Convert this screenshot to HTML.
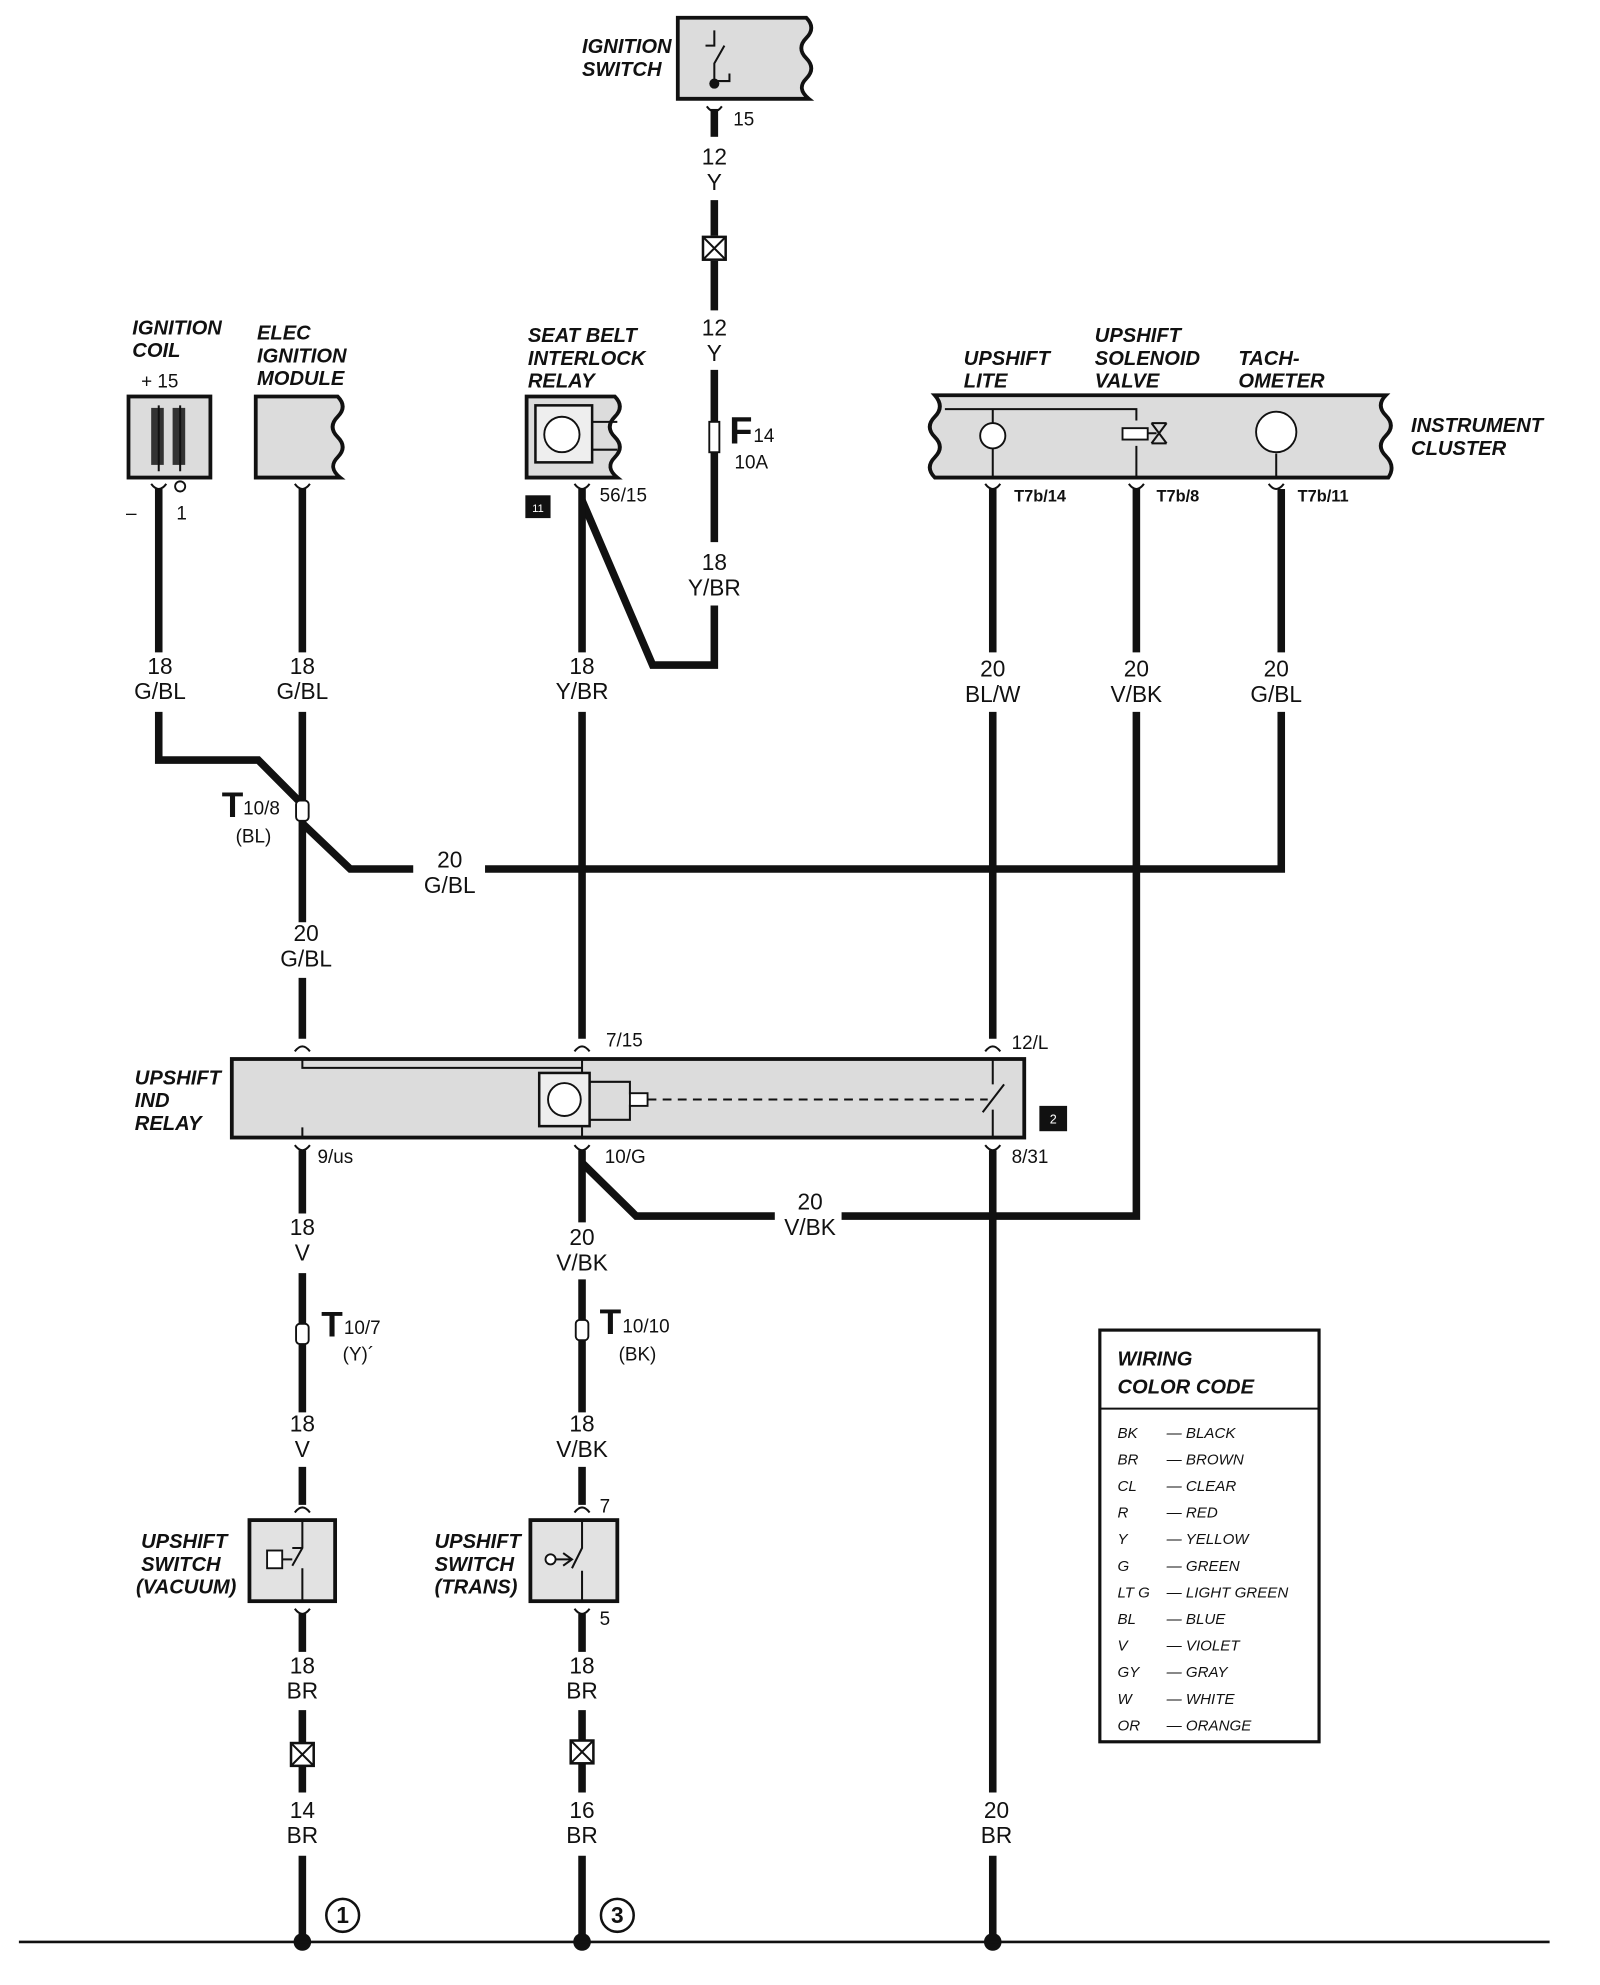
<!DOCTYPE html>
<html><head><meta charset="utf-8"><style>
html,body{margin:0;padding:0;background:#fff}
svg{display:block}
text{font-family:"Liberation Sans",sans-serif;fill:#111}
.l{font-size:18px;text-anchor:middle}
.h{font-size:16px;font-style:italic;font-weight:bold}
.s{font-size:15px}
.c{font-size:12px;font-style:italic}
.w{stroke:#111;stroke-width:6;fill:none}
.g{fill:#dcdcdc;stroke:#111;stroke-width:3}
.t{stroke:#111;stroke-width:1.6;fill:none}
</style></head><body>
<svg width="1600" height="1985" viewBox="0 0 1270 1567" preserveAspectRatio="none" xmlns="http://www.w3.org/2000/svg">
<!-- ignition switch -->
<path class="g" d="M538 14 H640 q8 8 0 16 q-8 8 0 16 q8 8 0 16 q-8 8 2 16 H538 Z"/>
<path class="t" d="M567 64 V50 l8-14 M560 36 H567 V24 M567 64 h12 v-6"/>
<circle cx="567" cy="66" r="4" fill="#111"/>
<text class="h" x="462" y="42">IGNITION</text><text class="h" x="462" y="60">SWITCH</text>
<path class="t" d="M561 84 q6 8 12 0"/>
<path class="w" d="M567 86 V108"/>
<text class="s" x="582" y="99">15</text>
<text class="l" x="567" y="130">12</text><text class="l" x="567" y="150">Y</text>
<path class="w" d="M567 158 V186 M567 206 V245"/>
<rect x="558" y="187" width="18" height="18" fill="#fff" stroke="#111" stroke-width="2"/>
<path class="t" d="M558 187 L576 205 M576 187 L558 205"/>
<text class="l" x="567" y="265">12</text><text class="l" x="567" y="285">Y</text>
<path class="w" d="M567 292 V333 M567 357 V428"/>
<rect x="563" y="333" width="8" height="24" fill="#fff" stroke="#111" stroke-width="1.5"/>
<text x="579" y="350" style="font-size:30px;font-weight:bold">F</text><text class="s" x="598" y="349">14</text>
<text class="s" x="583" y="370">10A</text>
<text class="l" x="567" y="450">18</text><text class="l" x="567" y="470">Y/BR</text>
<path class="w" d="M567 478 V525 H518 L462 395"/>
<!-- ignition coil -->
<rect class="g" x="102" y="313" width="65" height="64"/>
<rect x="120" y="322" width="10" height="45" fill="#333"/><rect x="137" y="322" width="10" height="45" fill="#333"/>
<path class="t" d="M126 320 V372 M143 320 V372"/>
<text class="h" x="105" y="264">IGNITION</text><text class="h" x="105" y="282">COIL</text>
<text class="s" x="112" y="306">+ 15</text>
<text class="s" x="100" y="410">–</text><text class="s" x="140" y="410">1</text>
<circle cx="143" cy="384" r="4" fill="#fff" stroke="#111" stroke-width="1.5"/>
<path class="t" d="M120 382 q6 8 12 0"/>
<path class="w" d="M126 386 V515"/>
<text class="l" x="127" y="532">18</text><text class="l" x="127" y="552">G/BL</text>
<path class="w" d="M126 562 V600 H205 L240 635"/>
<!-- elec ignition module -->
<path class="g" d="M203 313 H268 q8 8 0 16 q-8 8 0 16 q8 8 0 16 q-8 8 2 16 H203 Z"/>
<text class="h" x="204" y="268">ELEC</text><text class="h" x="204" y="286">IGNITION</text><text class="h" x="204" y="304">MODULE</text>
<path class="t" d="M234 382 q6 8 12 0"/>
<path class="w" d="M240 386 V515"/>
<text class="l" x="240" y="532">18</text><text class="l" x="240" y="552">G/BL</text>
<path class="w" d="M240 562 V728 M240 650 L278 686 H328 M385 686 H1017 V562 M1017 386 V515"/>
<rect x="235" y="632" width="10" height="16" rx="3" fill="#fff" stroke="#111" stroke-width="1.5"/>
<text x="176" y="645" style="font-size:28px;font-weight:bold">T</text><text class="s" x="193" y="643">10/8</text>
<text class="s" x="187" y="665">(BL)</text>
<text class="l" x="357" y="685">20</text><text class="l" x="357" y="705">G/BL</text>
<text class="l" x="243" y="743">20</text><text class="l" x="243" y="763">G/BL</text>
<path class="w" d="M240 772 V820"/>
<!-- seat belt relay -->
<path class="g" d="M418 313 H488 q8 8 0 16 q-8 8 0 16 q8 8 0 16 q-8 8 2 16 H418 Z"/>
<rect x="425" y="320" width="45" height="45" fill="#eee" stroke="#111" stroke-width="2"/>
<circle cx="446" cy="343" r="14" fill="#fff" stroke="#111" stroke-width="1.5"/>
<path class="t" d="M470 333 H490 M470 355 H490"/>
<text class="h" x="419" y="270">SEAT BELT</text><text class="h" x="419" y="288">INTERLOCK</text><text class="h" x="419" y="306">RELAY</text>
<rect x="417" y="391" width="20" height="18" fill="#111"/><text x="427" y="404" style="font-size:9px;fill:#fff;text-anchor:middle">11</text>
<text class="s" x="476" y="396">56/15</text>
<path class="t" d="M456 382 q6 8 12 0"/>
<path class="w" d="M462 386 V515"/>
<text class="l" x="462" y="532">18</text><text class="l" x="462" y="552">Y/BR</text>
<path class="w" d="M462 562 V820"/>
<!-- instrument cluster -->
<path class="g" d="M742 312 H1100 q-8 8 0 16 q8 8 0 16 q-8 8 0 16 q8 8 2 17 H742 q-8-8 0-16 q8-8 0-16 q-8-8 0-16 q8-8 0-17 Z"/>
<path class="t" d="M750 323 H902 V332 M788 323 V335 M788 352 V377 M902 352 V377 M1013 358 V377"/>
<circle cx="788" cy="344" r="10" fill="#fff" stroke="#111" stroke-width="1.5"/>
<rect x="891" y="338" width="20" height="9" fill="#fff" stroke="#111" stroke-width="1.5"/>
<path class="t" d="M911 342 H918 M914 334 L926 350 M926 334 L914 350 M914 334 H926 M914 350 H926"/>
<circle cx="1013" cy="341" r="16" fill="#fff" stroke="#111" stroke-width="1.5"/>
<text class="h" x="765" y="288">UPSHIFT</text><text class="h" x="765" y="306">LITE</text>
<text class="h" x="869" y="270">UPSHIFT</text><text class="h" x="869" y="288">SOLENOID</text><text class="h" x="869" y="306">VALVE</text>
<text class="h" x="983" y="288">TACH-</text><text class="h" x="983" y="306">OMETER</text>
<text class="h" x="1120" y="341">INSTRUMENT</text><text class="h" x="1120" y="359">CLUSTER</text>
<text x="805" y="396" style="font-size:13px;font-weight:bold">T7b/14</text>
<text x="918" y="396" style="font-size:13px;font-weight:bold">T7b/8</text>
<text x="1030" y="396" style="font-size:13px;font-weight:bold">T7b/11</text>
<path class="t" d="M782 382 q6 8 12 0 M896 382 q6 8 12 0 M1007 382 q6 8 12 0"/>
<path class="w" d="M788 386 V515 M902 386 V515"/>
<text class="l" x="788" y="534">20</text><text class="l" x="788" y="554">BL/W</text>
<text class="l" x="902" y="534">20</text><text class="l" x="902" y="554">V/BK</text>
<text class="l" x="1013" y="534">20</text><text class="l" x="1013" y="554">G/BL</text>
<path class="w" d="M788 562 V820 M902 562 V960 H668 M615 960 H505 L462 918"/>
<text class="l" x="643" y="955">20</text><text class="l" x="643" y="975">V/BK</text>
<!-- upshift ind relay -->
<rect class="g" x="184" y="836" width="629" height="62"/>
<path class="t" d="M240 836 V843 H462 M462 836 V848 M788 836 V856 M788 876 V898 M240 898 V890 M462 890 V898"/>
<rect x="428" y="847" width="40" height="42" fill="#eee" stroke="#111" stroke-width="2"/>
<circle cx="448" cy="868" r="13" fill="#fff" stroke="#111" stroke-width="1.5"/>
<path class="t" d="M468 854 H500 V864 M468 884 H500 V872"/>
<rect x="500" y="863" width="14" height="10" fill="#fff" stroke="#111" stroke-width="1.5"/>
<path d="M514 868 H784" stroke="#111" stroke-width="1.6" stroke-dasharray="7,5"/>
<path class="t" d="M780 878 L797 856"/>
<text class="h" x="107" y="856">UPSHIFT</text><text class="h" x="107" y="874">IND</text><text class="h" x="107" y="892">RELAY</text>
<rect x="825" y="873" width="22" height="20" fill="#111"/><text x="836" y="887" style="font-size:10px;fill:#fff;text-anchor:middle">2</text>
<text class="s" x="481" y="826">7/15</text><text class="s" x="803" y="828">12/L</text>
<text class="s" x="252" y="918">9/us</text><text class="s" x="480" y="918">10/G</text><text class="s" x="803" y="918">8/31</text>
<path class="t" d="M234 830 q6 -8 12 0 M456 830 q6 -8 12 0 M782 830 q6 -8 12 0 M234 904 q6 8 12 0 M456 904 q6 8 12 0 M782 904 q6 8 12 0"/>
<path class="w" d="M240 908 V958 M462 908 V965 M788 908 V1415"/>
<!-- column 240 lower -->
<text class="l" x="240" y="975">18</text><text class="l" x="240" y="995">V</text>
<path class="w" d="M240 1005 V1115"/>
<rect x="235" y="1045" width="10" height="16" rx="3" fill="#fff" stroke="#111" stroke-width="1.5"/>
<text x="255" y="1055" style="font-size:28px;font-weight:bold">T</text><text class="s" x="273" y="1053">10/7</text>
<text class="s" x="272" y="1074">(Y)´</text>
<text class="l" x="240" y="1130">18</text><text class="l" x="240" y="1150">V</text>
<path class="w" d="M240 1158 V1188"/>
<path class="t" d="M234 1194 q6 -8 12 0"/>
<rect class="g" x="198" y="1200" width="68" height="64" style="fill:#e2e2e2"/>
<rect x="212" y="1224" width="12" height="14" fill="#fff" stroke="#111" stroke-width="1.5"/>
<path class="t" d="M224 1231 H232 M240 1200 V1222 L232 1236 M240 1238 V1264 M232 1222 H240"/>
<text class="h" x="112" y="1222">UPSHIFT</text><text class="h" x="112" y="1240">SWITCH</text><text class="h" x="108" y="1258">(VACUUM)</text>
<path class="t" d="M234 1270 q6 8 12 0"/>
<path class="w" d="M240 1274 V1304"/>
<text class="l" x="240" y="1321">18</text><text class="l" x="240" y="1341">BR</text>
<path class="w" d="M240 1350 V1376 M240 1394 V1415"/>
<rect x="231" y="1376" width="18" height="18" fill="#fff" stroke="#111" stroke-width="2"/>
<path class="t" d="M231 1376 L249 1394 M249 1376 L231 1394"/>
<text class="l" x="240" y="1435">14</text><text class="l" x="240" y="1455">BR</text>
<path class="w" d="M240 1465 V1533"/>
<circle cx="240" cy="1533" r="7" fill="#111"/>
<circle cx="272" cy="1512" r="13" fill="#fff" stroke="#111" stroke-width="2"/><text class="l" x="272" y="1518" style="font-weight:bold">1</text>
<!-- column 462 lower -->
<text class="l" x="462" y="983">20</text><text class="l" x="462" y="1003">V/BK</text>
<path class="w" d="M462 1010 V1115"/>
<rect x="457" y="1042" width="10" height="16" rx="3" fill="#fff" stroke="#111" stroke-width="1.5"/>
<text x="476" y="1053" style="font-size:28px;font-weight:bold">T</text><text class="s" x="494" y="1052">10/10</text>
<text class="s" x="491" y="1074">(BK)</text>
<text class="l" x="462" y="1130">18</text><text class="l" x="462" y="1150">V/BK</text>
<path class="w" d="M462 1158 V1188"/>
<path class="t" d="M456 1194 q6 -8 12 0"/>
<text class="s" x="476" y="1194">7</text>
<rect class="g" x="421" y="1200" width="69" height="64" style="fill:#e2e2e2"/>
<circle cx="437" cy="1231" r="4" fill="#fff" stroke="#111" stroke-width="1.5"/>
<path class="t" d="M441 1231 H454 M462 1200 V1222 L454 1238 M462 1240 V1264 M447 1226 L454 1231 L447 1236"/>
<text class="h" x="345" y="1222">UPSHIFT</text><text class="h" x="345" y="1240">SWITCH</text><text class="h" x="345" y="1258">(TRANS)</text>
<path class="t" d="M456 1270 q6 8 12 0"/>
<text class="s" x="476" y="1283">5</text>
<path class="w" d="M462 1274 V1304"/>
<text class="l" x="462" y="1321">18</text><text class="l" x="462" y="1341">BR</text>
<path class="w" d="M462 1350 V1374 M462 1392 V1415"/>
<rect x="453" y="1374" width="18" height="18" fill="#fff" stroke="#111" stroke-width="2"/>
<path class="t" d="M453 1374 L471 1392 M471 1374 L453 1392"/>
<text class="l" x="462" y="1435">16</text><text class="l" x="462" y="1455">BR</text>
<path class="w" d="M462 1465 V1533"/>
<circle cx="462" cy="1533" r="7" fill="#111"/>
<circle cx="490" cy="1512" r="13" fill="#fff" stroke="#111" stroke-width="2"/><text class="l" x="490" y="1518" style="font-weight:bold">3</text>
<!-- column 788 lower -->
<text class="l" x="791" y="1435">20</text><text class="l" x="791" y="1455">BR</text>
<path class="w" d="M788 1465 V1533"/>
<circle cx="788" cy="1533" r="7" fill="#111"/>
<!-- ground line -->
<path d="M15 1533 H1230" stroke="#111" stroke-width="2"/>
<!-- color code -->
<rect x="873" y="1050" width="174" height="325" fill="#fff" stroke="#111" stroke-width="2.5"/>
<path d="M873 1112 H1047" stroke="#111" stroke-width="1.5"/>
<text class="h" x="887" y="1078">WIRING</text><text class="h" x="887" y="1100">COLOR CODE</text>
<g class="c">
<text class="c" x="887" y="1135">BK</text><text class="c" x="926" y="1135">— BLACK</text>
<text class="c" x="887" y="1156">BR</text><text class="c" x="926" y="1156">— BROWN</text>
<text class="c" x="887" y="1177">CL</text><text class="c" x="926" y="1177">— CLEAR</text>
<text class="c" x="887" y="1198">R</text><text class="c" x="926" y="1198">— RED</text>
<text class="c" x="887" y="1219">Y</text><text class="c" x="926" y="1219">— YELLOW</text>
<text class="c" x="887" y="1240">G</text><text class="c" x="926" y="1240">— GREEN</text>
<text class="c" x="887" y="1261">LT G</text><text class="c" x="926" y="1261">— LIGHT GREEN</text>
<text class="c" x="887" y="1282">BL</text><text class="c" x="926" y="1282">— BLUE</text>
<text class="c" x="887" y="1303">V</text><text class="c" x="926" y="1303">— VIOLET</text>
<text class="c" x="887" y="1324">GY</text><text class="c" x="926" y="1324">— GRAY</text>
<text class="c" x="887" y="1345">W</text><text class="c" x="926" y="1345">— WHITE</text>
<text class="c" x="887" y="1366">OR</text><text class="c" x="926" y="1366">— ORANGE</text>
</g>
</svg>
</body></html>
